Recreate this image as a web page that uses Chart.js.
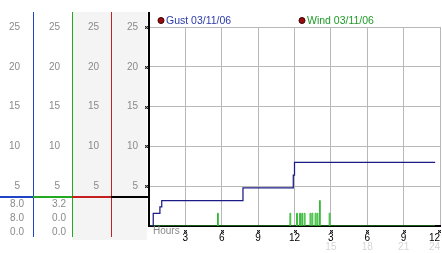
<!DOCTYPE html>
<html><head><meta charset="utf-8">
<script src="https://cdn.jsdelivr.net/npm/chart.js@4"></script>
<style>html,body{margin:0;padding:0;background:#fff;overflow:hidden}#wrap{width:442px;height:253px;position:relative}</style>
</head><body><div id="wrap"><canvas id="c"></canvas></div>
<script>
// ---- data ----
const seriesNames = ['Gust 03/11/06', 'Wind 03/11/06'];
const gustHours  = [0.1, 0.35, 0.9, 1.05, 7.75, 11.9, 12.0, 23.6];
const gustValues = [0,   1.6,  2.4, 3.2,  4.8,  6.4,  8.0,  8.0];
const windHours  = [0.1, 5.65, 5.72, 11.62, 11.69, 12.17, 12.24, 12.42, 12.49, 12.6, 12.67, 12.8, 12.87,
                    13.28, 13.35, 13.44, 13.51, 13.7, 13.77, 13.86, 13.93, 14.06, 14.13, 14.86, 14.93, 23.6];
const windValues = [0,   1.6,  0,    1.6,   0,     1.6,   0,     1.6,   0,     1.6,  0,     1.6,  0,
                    1.6,   0,     1.6,   0,     1.6,  0,     1.6,   0,     3.2,   0,     1.6,   0,     0];
const xTickLabels  = ['', '3', '6', '9', '12', '3', '6', '9', '12'];
const x2TickLabels = ['', '', '', '', '', '15', '18', '21', '24'];
const gustStats = ['8.0', '8.0', '0.0'];
const windStats = ['3.2', '0.0', '0.0'];
const hoursTitle = 'Hours';

const FONT = 'Liberation Sans, Arial, sans-serif';
const f10 = {family: FONT, size: 10};
const GRID = '#b8b8b8';
const COLS = {blue: '#1f44c8', green: '#22aa22', red: '#c42020', black: '#000'};

function yLabel(v) { return v === 0 ? '' : String(v); }
function leftAxis(weight, width, pad) {
  return {
    type: 'linear', position: 'left', min: 0, max: 25, weight: weight,
    ticks: {stepSize: 5, padding: pad, color: '#8a8a8a', font: f10, callback: yLabel},
    grid: {display: false, drawTicks: false}, border: {display: false},
    afterFit(s) { s.width = width; }
  };
}
function noClip(s) { s._computeLabelArea = () => null; }

function mark(ctx, x, y) {
  ctx.fillStyle = '#222';
  const pts = [[-1,-1],[1,-1],[0,0],[-1,1],[1,1]];
  for (const [dx, dy] of pts) ctx.fillRect(Math.round(x) + dx, Math.round(y) + dy, 1, 1);
  ctx.fillStyle = '#999';
  const pts2 = [[0,-1],[-1,0],[1,0],[0,1]];
  for (const [dx, dy] of pts2) ctx.fillRect(Math.round(x) + dx, Math.round(y) + dy, 1, 1);
}

const decor = {
  id: 'decor',
  beforeDraw(chart) {
    const ctx = chart.ctx, s = chart.scales, ca = chart.chartArea;
    const top = 12;
    ctx.save();
    ctx.fillStyle = '#f4f4f4';
    ctx.fillRect(s.c3.left, top, s.y.right - 2 - s.c3.left, 240 - top);
    ctx.lineWidth = 1;
    const lines = [[s.c1.right, COLS.blue], [s.c2.right, COLS.green], [s.c3.right, COLS.red]];
    for (const [x, c] of lines) {
      ctx.strokeStyle = c; ctx.beginPath();
      ctx.moveTo(x + 0.5, top); ctx.lineTo(x + 0.5, 237); ctx.stroke();
    }
    ctx.strokeStyle = '#000'; ctx.lineWidth = 2;
    ctx.beginPath(); ctx.moveTo(ca.left, top); ctx.lineTo(ca.left, ca.top + 1); ctx.stroke();
    ctx.restore();
  },
  afterDraw(chart) {
    const ctx = chart.ctx, s = chart.scales, ca = chart.chartArea;
    ctx.save();
    const sepY = ca.bottom - 29;
    const segs = [[0, s.c1.right, COLS.blue], [s.c1.right, s.c2.right, COLS.green],
                  [s.c2.right, s.c3.right, COLS.red], [s.c3.right, s.y.right - 1, COLS.black]];
    ctx.lineWidth = 2;
    for (const [a, b, c] of segs) {
      ctx.strokeStyle = c; ctx.beginPath(); ctx.moveTo(a, sepY); ctx.lineTo(b, sepY); ctx.stroke();
    }
    ctx.font = '10px ' + FONT; ctx.fillStyle = '#8a8a8a';
    ctx.textAlign = 'right'; ctx.textBaseline = 'middle';
    const rowsY = [ca.bottom - 21.5, ca.bottom - 7.5, ca.bottom + 6];
    gustStats.forEach((t, i) => ctx.fillText(t, s.c1.right - 9, rowsY[i]));
    windStats.forEach((t, i) => ctx.fillText(t, s.c2.right - 6, rowsY[i]));
    for (const v of [5, 10, 15, 20, 25]) mark(ctx, s.y.right - 3, s.y.getPixelForValue(v));
    for (const t of s.x.ticks) { if (t.value > 0) mark(ctx, Math.min(s.x.getPixelForValue(t.value), 439), ca.bottom + 4.5); }
    ctx.textAlign = 'left'; ctx.fillStyle = '#8a8a8a';
    ctx.fillText(hoursTitle, ca.left + 4, ca.bottom + 5.5);
    const colors = ['#2a3aa8', '#1f9a26'];
    const offs = [12, 153];
    seriesNames.forEach((name, i) => {
      const x = ca.left + offs[i], y = 20.5;
      ctx.beginPath(); ctx.arc(x, y, 3, 0, Math.PI * 2);
      ctx.fillStyle = '#9a0b0b'; ctx.fill(); ctx.lineWidth = 1; ctx.strokeStyle = '#3a0000'; ctx.stroke();
      ctx.fillStyle = colors[i]; ctx.textAlign = 'left'; ctx.textBaseline = 'middle';
      ctx.font = '10.5px ' + FONT;
      ctx.fillText(name, x + 5, y + 0.5);
    });
    ctx.restore();
  }
};

const pts = (xs, ys) => xs.map((x, i) => ({x: x, y: ys[i]}));

new Chart(document.getElementById('c'), {
  type: 'line',
  data: {
    datasets: [
      {label: seriesNames[0], data: pts(gustHours, gustValues), stepped: true, borderColor: '#1c1c86', borderWidth: 1.25, pointRadius: 0, xAxisID: 'x', yAxisID: 'y'},
      {label: seriesNames[1], data: pts(windHours, windValues), stepped: true, borderColor: '#33b833', borderWidth: 1, pointRadius: 0, xAxisID: 'x', yAxisID: 'y'}
    ]
  },
  options: {
    responsive: true, maintainAspectRatio: false, animation: false,
    layout: {padding: {top: 27, right: 2, left: 0, bottom: 0}},
    plugins: {legend: {display: false}, tooltip: {enabled: false}},
    scales: {
      x: {
        type: 'linear', position: 'bottom', min: 0, max: 24, weight: 0,
        ticks: {stepSize: 3, autoSkip: false, maxRotation: 0, align: 'inner', padding: 6.5, color: '#000', font: f10,
                callback: (v, i) => xTickLabels[i]},
        grid: {color: GRID, drawTicks: false, tickLength: 0},
        border: {color: '#000', width: 2},
        afterFit(s) { s.height = 17; s.paddingLeft = 0; s.paddingRight = 0; noClip(s); }
      },
      x2: {
        type: 'linear', position: 'bottom', min: 0, max: 24, weight: 1,
        ticks: {stepSize: 3, autoSkip: false, maxRotation: 0, align: 'inner', padding: -2, color: '#d6d6d6', font: f10,
                callback: (v, i) => x2TickLabels[i]},
        grid: {display: false, drawTicks: false}, border: {display: false},
        afterFit(s) { s.height = 10; s.paddingLeft = 0; s.paddingRight = 0; noClip(s); }
      },
      y: {
        type: 'linear', position: 'left', min: 0, max: 25, weight: 1,
        ticks: {stepSize: 5, padding: 11, color: '#8a8a8a', font: f10, callback: yLabel},
        grid: {color: GRID, drawTicks: false, tickLength: 0},
        border: {color: '#000', width: 2},
        afterFit(s) { s.width = 38; }
      },
      c3: leftAxis(2, 39, 12),
      c2: leftAxis(3, 39, 12),
      c1: leftAxis(4, 33, 13)
    }
  },
  plugins: [decor]
});
</script>
</body></html>
